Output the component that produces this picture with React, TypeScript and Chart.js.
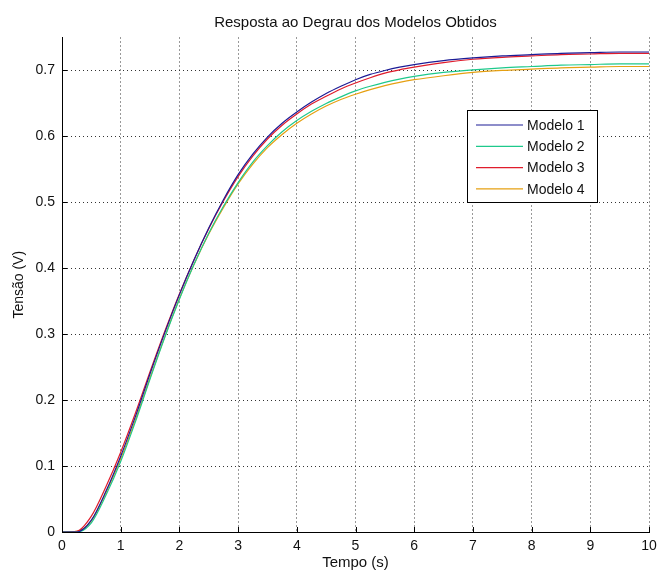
import React, { useEffect, useRef } from "react";
import { Chart, registerables } from "chart.js";

Chart.register(...registerables);

const times = [0, 0.25, 0.5, 0.75, 1, 1.25, 1.5, 1.75, 2, 2.25, 2.5, 2.75, 3, 3.25, 3.5, 3.75, 4, 4.25, 4.5, 4.75, 5, 5.25, 5.5, 5.75, 6, 6.5, 7, 7.5, 8, 8.5, 9, 9.5, 10];
const modelo1 = [0, 0, 0.018, 0.062, 0.115, 0.175, 0.240, 0.302, 0.360, 0.413, 0.461, 0.504, 0.542, 0.573, 0.599, 0.620, 0.637, 0.652, 0.665, 0.676, 0.686, 0.694, 0.700, 0.705, 0.709, 0.715, 0.719, 0.722, 0.724, 0.726, 0.727, 0.728, 0.728];
const modelo2 = [0, 0, 0.014, 0.056, 0.107, 0.167, 0.232, 0.295, 0.353, 0.406, 0.453, 0.494, 0.530, 0.561, 0.586, 0.607, 0.624, 0.638, 0.650, 0.660, 0.669, 0.676, 0.682, 0.687, 0.691, 0.697, 0.701, 0.704, 0.706, 0.708, 0.709, 0.710, 0.710];
const modelo3 = [0, 0.001, 0.024, 0.069, 0.121, 0.180, 0.243, 0.304, 0.361, 0.413, 0.460, 0.502, 0.539, 0.570, 0.596, 0.617, 0.634, 0.649, 0.661, 0.672, 0.681, 0.689, 0.696, 0.701, 0.705, 0.712, 0.717, 0.720, 0.722, 0.724, 0.725, 0.726, 0.726];
const modelo4 = [0, 0.001, 0.017, 0.060, 0.111, 0.170, 0.234, 0.296, 0.354, 0.406, 0.452, 0.492, 0.528, 0.558, 0.583, 0.603, 0.620, 0.634, 0.646, 0.656, 0.664, 0.671, 0.677, 0.682, 0.686, 0.692, 0.697, 0.700, 0.702, 0.704, 0.705, 0.706, 0.706];

const seriesLabels = ["Modelo 1", "Modelo 2", "Modelo 3", "Modelo 4"];
const seriesColors = ["#1c1c96", "#1ec98c", "#e01c2c", "#e6a012"];
const xTicks = [0, 1, 2, 3, 4, 5, 6, 7, 8, 9, 10];
const yTicks = [0, 0.1, 0.2, 0.3, 0.4, 0.5, 0.6, 0.7];

const FONT = "'Liberation Sans', Arial, sans-serif";

const inwardTicks = {
  id: "inwardTicks",
  afterDraw(chart: any) {
    const { ctx, chartArea, scales } = chart;
    ctx.save();
    ctx.strokeStyle = "#000";
    ctx.lineWidth = 1;
    ctx.beginPath();
    scales.y.ticks.forEach((t: any) => {
      const y = Math.round(scales.y.getPixelForValue(t.value)) + 0.5;
      ctx.moveTo(chartArea.left, y);
      ctx.lineTo(chartArea.left + 5, y);
    });
    scales.x.ticks.forEach((t: any) => {
      const x = Math.round(scales.x.getPixelForValue(t.value)) + 0.5;
      ctx.moveTo(x, chartArea.bottom);
      ctx.lineTo(x, chartArea.bottom - 5);
    });
    ctx.stroke();
    ctx.restore();
  },
};

const boxLegend = {
  id: "boxLegend",
  afterDraw(chart: any) {
    const { ctx } = chart;
    const left = 467;
    const top = 110;
    const w = 130;
    const h = 92;
    ctx.save();
    ctx.fillStyle = "#fff";
    ctx.fillRect(left, top, w, h);
    ctx.strokeStyle = "#000";
    ctx.lineWidth = 1;
    ctx.strokeRect(left + 0.5, top + 0.5, w, h);
    ctx.font = "14px " + FONT;
    ctx.textBaseline = "middle";
    ctx.fillStyle = "#111";
    chart.data.datasets.forEach((ds: any, i: number) => {
      const y = top + 15 + i * 21.3;
      ctx.strokeStyle = ds.borderColor;
      ctx.lineWidth = 1.2;
      ctx.beginPath();
      ctx.moveTo(left + 9, y);
      ctx.lineTo(left + 56, y);
      ctx.stroke();
      ctx.fillText(ds.label, left + 60, y + 1);
    });
    ctx.restore();
  },
};

export default function App() {
  const ref = useRef<HTMLCanvasElement>(null);
  useEffect(() => {
    if (!ref.current) return;
    const seriesData = [modelo1, modelo2, modelo3, modelo4];
    const chart = new Chart(ref.current, {
      type: "line",
      data: {
        datasets: seriesData.map((vals, i) => ({
          label: seriesLabels[i],
          data: times.map((t, j) => ({ x: t, y: vals[j] })),
          borderColor: seriesColors[i],
          backgroundColor: seriesColors[i],
          borderWidth: 1.2,
          pointRadius: 0,
          cubicInterpolationMode: "monotone" as const,
          fill: false,
        })),
      },
      options: {
        responsive: false,
        animation: false,
        layout: { padding: { top: 0, right: 0, bottom: 0, left: 0 } },
        plugins: {
          legend: { display: false },
          tooltip: { enabled: false },
          title: {
            display: true,
            text: "Resposta ao Degrau dos Modelos Obtidos",
            color: "#111",
            font: { family: FONT, size: 15, weight: "normal", lineHeight: 1.2 },
            padding: { top: 14, bottom: 5.5 },
            fullSize: false,
          },
        },
        scales: {
          x: {
            type: "linear",
            min: 0,
            max: 10,
            afterBuildTicks: (s: any) => {
              s.ticks = xTicks.map((v) => ({ value: v }));
            },
            afterFit: (s: any) => {
              s.height = 42;
              s.paddingRight = 8;
              s.paddingLeft = 0;
            },
            ticks: {
              color: "#111",
              font: { family: FONT, size: 14, lineHeight: 1.2 },
              padding: 6,
              maxRotation: 0,
              callback: (v: any) => String(v),
            },
            grid: {
              color: "#333",
              lineWidth: 1,
              drawTicks: false,
              tickLength: 0,
            },
            border: { display: true, color: "#000", width: 1, dash: [1, 3] },
            title: {
              display: true,
              text: "Tempo (s)",
              color: "#111",
              font: { family: FONT, size: 15, lineHeight: 1.2 },
              padding: { top: 0, bottom: 2 },
            },
          },
          y: {
            type: "linear",
            min: 0,
            max: 0.75,
            afterBuildTicks: (s: any) => {
              s.ticks = yTicks.map((v) => ({ value: v }));
            },
            afterFit: (s: any) => {
              s.width = 62;
            },
            ticks: {
              color: "#111",
              font: { family: FONT, size: 14, lineHeight: 1.2 },
              padding: 7,
              callback: (v: any) => String(Number(Number(v).toFixed(1))),
            },
            grid: {
              color: "#333",
              lineWidth: 1,
              drawTicks: false,
              tickLength: 0,
            },
            border: { display: true, color: "#000", width: 1, dash: [1, 3] },
            title: {
              display: true,
              text: "Tensão (V)",
              color: "#111",
              font: { family: FONT, size: 14, lineHeight: 1.2 },
              padding: { top: 11, bottom: 0 },
            },
          },
        },
      },
      plugins: [inwardTicks, boxLegend],
    } as any);
    return () => chart.destroy();
  }, []);
  return (
    <div style={{ position: "fixed", left: 0, top: 0, width: 657, height: 574, background: "#fff" }}>
      <canvas ref={ref} width={657} height={574} />
    </div>
  );
}
